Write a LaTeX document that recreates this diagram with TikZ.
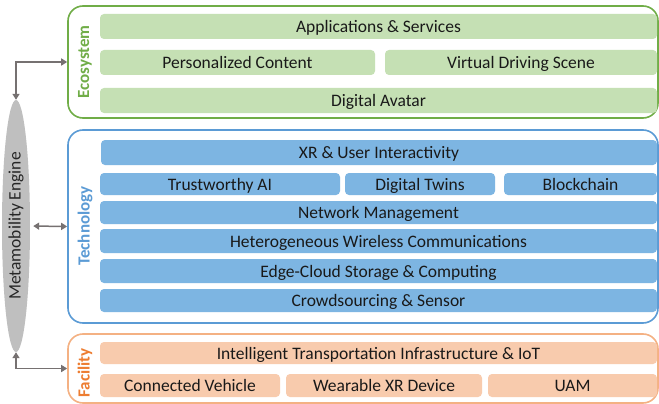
\documentclass[tikz,border=0pt]{standalone}
\usepackage{fontspec}
\setmainfont{Carlito}
\usetikzlibrary{shapes.geometric,arrows.meta,positioning}

\definecolor{ecoline}{HTML}{70AD47}
\definecolor{ecofill}{HTML}{C5E0B4}
\definecolor{techline}{HTML}{5B9BD5}
\definecolor{techfill}{HTML}{7DB5E2}
\definecolor{facline}{HTML}{F4B183}
\definecolor{facfill}{HTML}{F8CBAD}
\definecolor{factext}{HTML}{ED7D31}
\definecolor{arrowgray}{HTML}{767171}
\definecolor{enginegray}{HTML}{BFBFBF}

\tikzset{
  layer/.style={draw, line width=1.6pt, rounded corners=15pt, fill=white},
  item/.style={rounded corners=4pt, inner sep=0pt, font=\fontsize{17.5}{20}\selectfont,
    text height=14pt, text depth=2pt, text=black!90},
  ecobox/.style={item, fill=ecofill},
  techbox/.style={item, fill=techfill},
  facbox/.style={item, fill=facfill},
  layername/.style={rotate=90, font=\bfseries\fontsize{17}{20}\selectfont},
  link/.style={arrowgray, line width=1.5pt, {Triangle[width=7pt,length=6pt]}-{Triangle[width=7pt,length=6pt]}}
}

\begin{document}
\begin{tikzpicture}[x=1pt,y=-1pt]
    \useasboundingbox (0,0) rectangle (659,404);
    \clip (0,0) rectangle (659,404);

    % layers
    \node[layer, draw=ecoline, minimum width=590pt, minimum height=112pt] (eco) at (363,62) {};
    \node[layer, draw=techline, minimum width=590pt, minimum height=193pt] (tech) at (363,226.5) {};
    \node[layer, draw=facline, minimum width=590pt, minimum height=69pt] (fac) at (363,368.5) {};

    \node[layername, text=ecoline] (econame) at (85,62) {Ecosystem};
    \node[layername, text=techline] (techname) at (85,226) {Technology};
    \node[layername, text=factext] (facname) at (85,373) {Facility};

    % ecosystem
    \node[ecobox, minimum width=557pt, minimum height=25pt] (apps) at (378.5,26.5) {Applications \& Services};
    \node[ecobox, minimum width=275pt, minimum height=25pt] (perso) at (237.5,62.5) {Personalized Content};
    \node[ecobox, minimum width=272pt, minimum height=25pt] (vds) at (521,62.5) {Virtual Driving Scene};
    \node[ecobox, minimum width=557pt, minimum height=25pt] (avatar) at (378.5,100.5) {Digital Avatar};

    % technology
    \node[techbox, minimum width=556pt, minimum height=25pt] (xr) at (379,152.5) {XR \& User Interactivity};
    \node[techbox, minimum width=240pt, minimum height=22pt] (tai) at (220,184) {Trustworthy AI};
    \node[techbox, minimum width=150pt, minimum height=22pt] (twins) at (420,184) {Digital Twins};
    \node[techbox, minimum width=153pt, minimum height=22pt] (chain) at (580.5,184) {Blockchain};
    \node[techbox, minimum width=557pt, minimum height=23pt] (netman) at (378.5,212.5) {Network Management};
    \node[techbox, minimum width=557pt, minimum height=24pt] (wireless) at (378.5,241) {Heterogeneous Wireless Communications};
    \node[techbox, minimum width=557pt, minimum height=24pt] (edge) at (378.5,271) {Edge-Cloud Storage \& Computing};
    \node[techbox, minimum width=557pt, minimum height=23pt] (crowd) at (378.5,300.5) {Crowdsourcing \& Sensor};

    % facility
    \node[facbox, minimum width=557pt, minimum height=22pt] (its) at (378.5,353) {Intelligent Transportation Infrastructure \& IoT};
    \node[facbox, minimum width=180pt, minimum height=23pt] (cv) at (190,385.5) {Connected Vehicle};
    \node[facbox, minimum width=196pt, minimum height=23pt] (wxr) at (384,385.5) {Wearable XR Device};
    \node[facbox, minimum width=169pt, minimum height=23pt] (uam) at (572.5,385.5) {UAM};

    % engine
    \node[ellipse, fill=enginegray, minimum width=28pt, minimum height=252pt, inner sep=0pt] (engine) at (16,226) {};
    \node[rotate=90, font=\fontsize{17.5}{20}\selectfont, text=black!85] (enginename) at (16,226) {Metamobility Engine};

    \draw[link] (engine.north) |- (eco.west);
    \draw[link, shorten <=3pt] (engine.east) -- (tech.west);
    \draw[link] (engine.south) |- (fac.west);
\end{tikzpicture}
\end{document}
